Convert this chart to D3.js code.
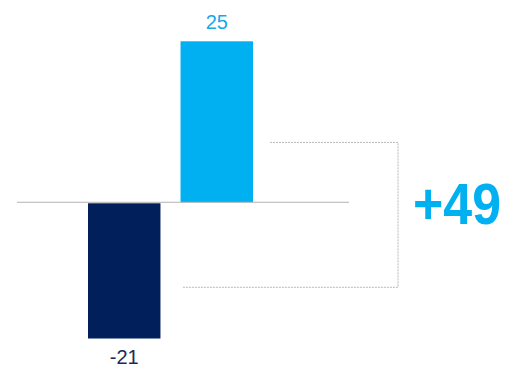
<!DOCTYPE html>
<html>
<head>
<meta charset="utf-8">
<script src="https://cdn.jsdelivr.net/npm/d3@7"></script>
<style>
  body { margin: 0; background: #fff; }
  svg { display: block; font-family: "Liberation Sans", Arial, sans-serif; }
</style>
</head>
<body>
<div id="chart"></div>
<script>
// Chart data
const categories = ["A", "B"];
const values = [-21, 25];
const barColors = ["#001f5b", "#00b0f0"];
const labelColors = ["#1a2c5e", "#1aa7e6"];
const bracketLevels = [9.3, -13.2];   // where the dotted bracket meets each side
const differenceLabel = "+49";

const width = 514, height = 367;

const svg = d3.select('#chart')
    .append('svg')
    .attr('width', width)
    .attr('height', height);

// Scales
const x = d3.scaleBand()
    .domain(categories)
    .range([88, 253])
    .paddingInner(0.217)
    .paddingOuter(0);

const y = d3.scaleLinear()
    .domain([-21, 25])
    .range([337.5, 41.3]);

// Bars
svg.selectAll('.bar')
    .data(values)
    .enter()
    .append('rect')
    .attr('class', 'bar')
    .attr('x', (d, i) => x(categories[i]))
    .attr('width', x.bandwidth())
    .attr('y', d => d > 0 ? y(d) : y(0) + 1)
    .attr('height', d => Math.abs(y(d) - y(0)))
    .attr('fill', (d, i) => barColors[i]);

// Zero line
svg.append('line')
    .attr('x1', 17)
    .attr('x2', 349)
    .attr('y1', y(0))
    .attr('y2', y(0))
    .attr('stroke', '#b3b3b3')
    .attr('stroke-width', 1);

// Value labels
svg.selectAll('.value-label')
    .data(values)
    .enter()
    .append('text')
    .attr('class', 'value-label')
    .attr('x', (d, i) => x(categories[i]) + x.bandwidth() / 2)
    .attr('y', d => d > 0 ? y(d) - 12 : y(d) + 26)
    .attr('text-anchor', 'middle')
    .style('font-size', '20px')
    .style('fill', (d, i) => labelColors[i])
    .text(d => d);

// Dotted bracket
const bx = 398;
const yTop = y(bracketLevels[0]);
const yBot = y(bracketLevels[1]);
const bracket = d3.path();
bracket.moveTo(270, yTop);
bracket.lineTo(bx, yTop);
bracket.lineTo(bx, yBot);
bracket.lineTo(183, yBot);

svg.append('path')
    .attr('d', bracket.toString())
    .attr('fill', 'none')
    .attr('stroke', '#b8b8b8')
    .attr('stroke-width', 1)
    .attr('stroke-dasharray', '2,1');

// Difference label
svg.append('text')
    .attr('x', 413)
    .attr('y', 224)
    .attr('textLength', 88)
    .attr('lengthAdjust', 'spacingAndGlyphs')
    .style('font-size', '57px')
    .style('font-weight', 'bold')
    .style('fill', '#00b0f0')
    .text(differenceLabel);
</script>
</body>
</html>
